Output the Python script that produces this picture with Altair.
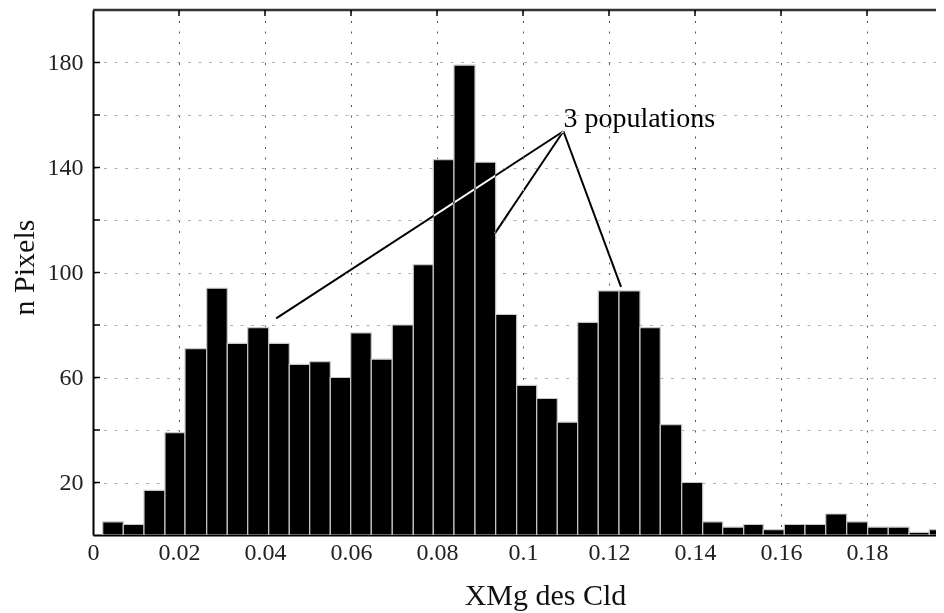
import altair as alt
import pandas as pd

# Histogram bin edges and counts
bin_edges = [0.00226, 0.00705, 0.01186, 0.01674, 0.02140, 0.02644, 0.03123, 0.03598,
             0.04086, 0.04565, 0.05040, 0.05519, 0.05993, 0.06472, 0.06960, 0.07449,
             0.07914, 0.08395, 0.08884, 0.09365, 0.09853, 0.10319, 0.10798, 0.11272,
             0.11751, 0.12233, 0.12721, 0.13193, 0.13691, 0.14179, 0.14644, 0.15133,
             0.15588, 0.16077, 0.16558, 0.17040, 0.17528, 0.18016, 0.18495, 0.18977,
             0.19449, 0.19930]
counts = [5, 4, 17, 39, 71, 94, 73, 79, 73, 65, 66, 60, 77, 67, 80, 103, 143, 179, 142, 84,
          57, 52, 43, 81, 93, 93, 79, 42, 20, 5, 3, 4, 2, 4, 4, 8, 5, 3, 3, 1, 2]

x_ticks = [0, 0.02, 0.04, 0.06, 0.08, 0.1, 0.12, 0.14, 0.16, 0.18]
y_ticks = [20, 40, 60, 80, 100, 120, 140, 160, 180]

# Annotation "3 populations"
note_text = ["3 populations"]
note_pos_x = [0.1094]
note_pos_y = [155.3]
apex_x = [0.1094, 0.1094, 0.1094]
apex_y = [153.8, 153.8, 153.8]
end_x = [0.0426, 0.0935, 0.1228]
end_y = [82.5, 115.0, 94.5]

W, H = 843, 525
FONT = "Liberation Serif"

bars_df = pd.DataFrame({"lo": bin_edges[:-1], "hi": bin_edges[1:], "n": counts})
note_df = pd.DataFrame({"x": note_pos_x, "y": note_pos_y, "t": note_text})
lines_df = pd.DataFrame({"x": apex_x, "y": apex_y, "x2": end_x, "y2": end_y})

xscale = alt.Scale(domain=[0, 0.19605], nice=False, zero=False)
yscale = alt.Scale(domain=[0, 200], nice=False)

x_axis = alt.Axis(
    values=x_ticks, format="~g", title="XMg des Cld",
    grid=True, gridColor="#555", gridDash=[2, 8.5], gridWidth=1,
    ticks=False, tickSize=0, labelPadding=5, labelFlush=False, labelOverlap=False,
    labelFont=FONT, labelFontSize=24, labelColor="#222",
    titleFont=FONT, titleFontSize=30, titleFontWeight="normal", titleColor="#111",
    titleX=452, titleY=69, titleAlign="center", titleBaseline="alphabetic",
    domainColor="black", domainWidth=2)

y_axis = alt.Axis(
    values=y_ticks, labelExpr="datum.value % 40 == 20 ? datum.label : ''",
    title="n Pixels",
    grid=True, gridColor="#b0b0b0", gridDash=[3, 7.5], gridWidth=1,
    ticks=False, tickSize=0, labelPadding=10, labelOverlap=False,
    labelFont=FONT, labelFontSize=24, labelColor="#222",
    titleFont=FONT, titleFontSize=30, titleFontWeight="normal", titleColor="#111",
    titleX=-60, titleY=257, titleAlign="center", titleBaseline="alphabetic",
    titleAngle=270,
    domainColor="black", domainWidth=2)

bars = alt.Chart(bars_df).mark_rect(
    fill="black", stroke="#c8c8c8", strokeWidth=1.2, clip=True
).encode(
    x=alt.X("lo:Q", scale=xscale, axis=x_axis),
    x2="hi:Q",
    y=alt.Y("n:Q", scale=yscale, axis=y_axis),
    y2=alt.datum(0),
)

top_border = alt.Chart(pd.DataFrame({"a": [0]})).mark_rule(
    color="#333", strokeWidth=2.5
).encode(x=alt.value(0), x2=alt.value(W), y=alt.value(0))

top_ticks = alt.Chart(pd.DataFrame({"x": x_ticks[1:]})).mark_rule(
    color="black", strokeWidth=1.5
).encode(x=alt.X("x:Q", scale=xscale, axis=x_axis), y=alt.value(0), y2=alt.value(6))

left_ticks = alt.Chart(pd.DataFrame({"y": y_ticks})).mark_rule(
    color="black", strokeWidth=1.5
).encode(y=alt.Y("y:Q", scale=yscale, axis=y_axis), x=alt.value(0), x2=alt.value(7))

lines = alt.Chart(lines_df).mark_rule(
    color="white", strokeWidth=2, blend="difference"
).encode(
    x=alt.X("x:Q", scale=xscale, axis=x_axis), y=alt.Y("y:Q", scale=yscale, axis=y_axis),
    x2="x2:Q", y2="y2:Q",
)

note = alt.Chart(note_df).mark_text(
    align="left", baseline="alphabetic", font=FONT, fontSize=28, color="black"
).encode(
    x=alt.X("x:Q", scale=xscale, axis=x_axis), y=alt.Y("y:Q", scale=yscale, axis=y_axis),
    text="t:N",
)

chart = alt.layer(bars, top_border, top_ticks, left_ticks, lines, note).properties(
    width=W, height=H,
    autosize=alt.AutoSizeParams(type="none"),
    padding={"left": 85, "top": 2, "right": 0, "bottom": 78},
    background="white",
).configure_view(stroke=None)

chart.save("out.html", embed_options={"renderer": "svg", "actions": False})
